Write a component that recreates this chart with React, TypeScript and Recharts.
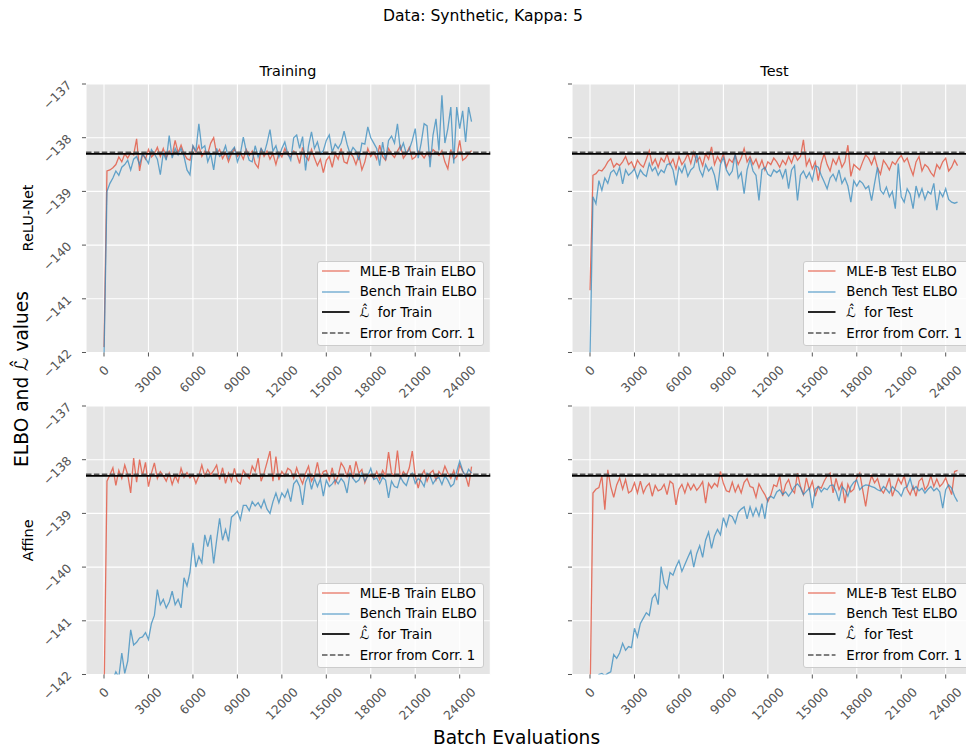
import React from 'react';
import { LineChart, Line, XAxis, YAxis, CartesianGrid, ReferenceLine, Legend } from 'recharts';

const FONT = '"DejaVu Sans", Verdana, sans-serif';
const RED = '#E24A33';
const BLUE = '#348ABD';
const TICK_GREY = '#555555';

// logged every 200 batch evaluations
const STEP = 200;
const xTicks = [0, 3000, 6000, 9000, 12000, 15000, 18000, 21000, 24000];
const yTicks = [-142, -141, -140, -139, -138, -137];

const lHatTrain = -138.3;
const lHatTest = -138.3;
const corrErrTrain = -138.27;
const corrErrTest = -138.27;

// ReLU-Net, training set
const mleReluTrain = [
  -141.9, -138.62, -138.6, -138.56, -138.5, -138.36, -138.45, -138.3, -138.38, -138.28,
  -138.32, -138.02, -138.62, -138.3, -138.4, -138.22, -138.36, -138.3, -138.18, -138.35,
  -138.2, -138.38, -138.25, -138.32, -138.05, -138.28, -138.14, -138.3, -138.39, -138.42,
  -138.16, -138.28, -138.15, -138.35, -138.25, -138.3, -138.1, -138.0, -138.3, -138.22,
  -138.39, -138.28, -138.45, -138.3, -138.2, -138.35, -138.28, -138.4, -138.22, -138.33,
  -138.25, -138.48, -138.56, -138.2, -138.35, -138.25, -138.4, -138.3, -138.5, -138.28,
  -138.36, -138.2, -138.32, -138.36, -138.25, -138.3, -138.48, -138.18, -138.35, -138.42,
  -138.22, -138.38, -138.52, -138.4, -138.65, -138.42, -138.35, -138.55, -138.3, -138.4,
  -138.2, -138.45, -138.48, -138.28, -138.35, -138.5, -138.32, -138.6, -138.45, -138.2,
  -138.35, -138.27, -138.4, -138.14, -138.35, -138.42, -138.2, -138.3, -138.37, -138.25,
  -138.15, -138.38, -138.3, -138.18, -138.4, -138.36, -138.25, -138.3, -138.38, -138.28,
  -138.37, -138.22, -138.27, -138.33, -138.24, -138.45, -138.58, -138.22, -138.4, -138.35,
  -138.05, -138.42, -138.38, -138.3, -138.24,
];
const benchReluTrain = [
  -142.1, -139.0, -138.85, -138.75, -138.62, -138.7, -138.55, -138.5, -138.42, -138.6,
  -138.4, -138.35, -138.5, -138.3, -138.38, -138.48, -138.22, -138.3, -138.4, -138.69,
  -138.28, -138.42, -137.96, -138.38, -138.2, -138.32, -138.2, -138.35, -138.6, -138.69,
  -138.15, -138.25, -137.74, -138.2, -138.15, -138.45, -138.3, -138.6, -138.2, -138.35,
  -138.3, -138.15, -138.38, -138.25, -138.18, -138.45, -138.3, -137.99, -138.25, -138.42,
  -138.45, -138.15, -138.36, -138.2, -138.3, -138.1, -137.85, -138.25, -138.15, -138.36,
  -138.2, -138.08, -138.3, -138.42, -138.0, -137.95, -138.2, -137.98, -138.61, -138.15,
  -137.89, -138.2, -138.08, -138.3, -138.24, -138.05, -137.95, -138.27, -138.12, -138.2,
  -138.1, -137.88, -138.12, -138.3, -138.18, -138.25, -138.42, -138.1, -138.12, -137.8,
  -138.0, -138.1, -138.2, -138.52, -138.08, -138.42, -138.05, -137.97, -138.1, -137.74,
  -138.24, -138.1, -138.3, -138.22, -138.05, -137.83, -138.38, -138.1, -137.74, -137.78,
  -138.55, -137.95, -137.65, -138.24, -137.21, -138.1, -137.83, -137.43, -138.48, -137.43,
  -137.83, -137.5, -138.08, -137.43, -137.7,
];

// ReLU-Net, test set
const mleReluTest = [
  -140.84, -138.7, -138.67, -138.6, -138.62, -138.55, -138.45, -138.39, -138.55, -138.48,
  -138.52, -138.45, -138.35, -138.5, -138.45, -138.58, -138.42, -138.5, -138.55, -138.4,
  -138.24, -138.5, -138.4, -138.55, -138.38, -138.45, -138.3, -138.5, -138.4, -138.58,
  -138.35, -138.5, -138.42, -138.3, -138.48, -138.27, -138.45, -138.36, -138.52, -138.3,
  -138.4, -138.17, -138.5, -138.35, -138.45, -138.3, -138.55, -138.4, -138.46, -138.32,
  -138.5, -138.38, -138.2, -138.45, -138.35, -138.5, -138.4, -138.56, -138.42, -138.6,
  -138.45, -138.5, -138.38, -138.45, -138.55, -138.42, -138.5, -138.35, -138.47, -138.3,
  -138.42, -138.35, -138.04, -138.52, -138.4, -138.58, -138.45, -138.8, -138.48, -138.3,
  -138.5, -138.62, -138.4, -138.5, -138.35, -138.55, -138.45, -138.14, -138.72, -138.5,
  -138.55, -138.6, -138.45, -138.32, -138.38, -138.5, -138.35, -138.56, -138.68, -138.42,
  -138.5, -138.6, -138.45, -138.5, -138.4, -138.33, -138.45, -138.38, -138.55, -138.7,
  -138.45, -138.35, -138.62, -138.5, -138.55, -138.65, -138.72, -138.5, -138.58, -138.45,
  -138.38, -138.62, -138.55, -138.42, -138.52,
];
const benchReluTest = [
  -142.1, -139.1, -139.23, -138.8, -138.98, -138.75, -138.85, -138.65, -138.6, -138.7,
  -138.55, -138.86, -138.6, -138.7, -138.65, -138.58, -138.75, -138.6, -138.68, -138.72,
  -138.48, -138.62, -138.55, -138.7, -138.6, -138.65, -138.5, -138.48, -138.6, -138.89,
  -138.55, -138.65, -138.5, -138.72, -138.6, -138.55, -138.3, -138.6, -138.72, -138.5,
  -138.62, -138.55, -138.7, -138.98, -138.5, -138.37, -138.6, -138.7, -138.62, -138.3,
  -138.75, -138.65, -139.04, -138.6, -138.4, -138.62, -138.7, -139.17, -138.6, -138.55,
  -138.68, -138.72, -138.6, -138.65, -138.6, -138.75, -138.58, -138.95, -138.6, -138.52,
  -139.17, -138.7, -138.62, -138.75, -138.65, -138.8, -138.52, -138.55, -138.7, -138.82,
  -138.95, -138.75, -138.68, -138.8, -138.6, -138.85, -138.75, -138.9, -139.2, -138.8,
  -138.9, -138.8, -138.85, -138.95, -138.9, -139.17, -138.85, -138.55, -138.98, -139.05,
  -138.92, -139.1, -139.0, -139.32, -138.48, -139.1, -139.2, -138.95, -139.05, -139.32,
  -138.9, -139.1, -138.95, -139.15, -139.0, -139.05, -138.85, -139.35, -139.0, -139.1,
  -138.95, -139.15, -139.2, -139.22, -139.2,
];

// Affine, training set
const mleAffineTrain = [
  -142.5, -138.4, -138.28, -138.15, -138.48, -138.2, -138.35, -138.1, -138.28, -138.62,
  -137.97, -138.42, -138.0, -138.3, -138.05, -138.5, -138.25, -138.06, -138.35, -138.22,
  -138.3, -138.4, -138.25, -138.46, -138.3, -138.42, -138.16, -138.33, -138.24, -138.34,
  -138.28, -138.44, -138.3, -138.1, -138.31, -138.18, -138.28, -138.2, -138.1, -138.37,
  -138.15, -138.44, -138.25, -138.4, -138.16, -138.4, -138.45, -138.2, -138.28, -138.35,
  -138.12, -138.22, -137.97, -138.4, -138.25, -138.05, -137.84, -138.4, -137.94, -138.38,
  -138.22, -138.3, -138.16, -138.2, -138.35, -138.15, -138.32, -138.45, -138.25, -138.12,
  -138.4, -138.3, -138.05, -138.34, -138.22, -138.2, -138.38, -138.15, -138.44, -138.3,
  -138.06, -138.15, -138.31, -138.1, -138.35, -138.03, -138.25, -138.18, -138.43, -138.28,
  -138.28, -138.35, -138.22, -138.37, -138.2, -138.3, -137.86, -138.25, -138.3, -137.83,
  -138.34, -138.22, -138.3, -138.15, -137.84, -138.3, -138.53, -138.3, -138.2, -138.4,
  -138.25, -138.2, -138.38, -138.22, -138.3, -138.12, -138.25, -138.35, -138.2, -138.38,
  -138.1, -138.22, -138.3, -138.5, -138.13,
];
const benchAffineTrain = [
  -142.6, -142.5, -142.4, -142.1, -141.95, -142.05, -141.6, -141.98, -141.75, -141.17,
  -141.45, -141.4, -141.32, -141.3, -141.22, -141.35, -141.05, -140.9, -140.42, -140.7,
  -140.6, -140.76, -140.65, -140.45, -140.7, -140.6, -140.76, -140.2, -140.35, -140.1,
  -139.55, -140.0, -139.8, -139.92, -139.4, -139.62, -139.4, -139.93, -139.5, -139.09,
  -139.5, -139.3, -139.52, -139.07, -139.02, -138.96, -139.12, -138.85, -138.85, -138.95,
  -138.78, -138.86, -138.8, -138.9, -138.75, -138.92, -139.0, -138.78, -138.62, -138.8,
  -138.62, -138.7, -138.56, -138.78, -138.45, -138.38, -138.5, -138.84, -138.42, -138.3,
  -138.55, -138.35, -138.5, -138.36, -138.68, -138.38, -138.5, -138.45, -138.37, -138.45,
  -138.35, -138.42, -138.62, -138.25, -138.35, -138.42, -138.38, -138.25, -138.4, -138.3,
  -138.16, -138.37, -138.34, -138.45, -138.33, -138.38, -138.71, -138.4, -138.5, -138.52,
  -138.32, -138.42, -138.48, -138.3, -138.25, -138.44, -138.35, -138.4, -138.5, -138.25,
  -138.3, -138.45, -138.36, -138.33, -138.46, -138.3, -138.38, -138.5, -138.45, -138.22,
  -138.03, -138.2, -138.32, -138.18, -138.25,
];

// Affine, test set
const mleAffineTest = [
  -142.5, -138.62, -138.55, -138.52, -138.3, -138.93, -138.19, -138.5, -138.7, -138.47,
  -138.34, -138.55, -138.37, -138.62, -138.58, -138.43, -138.62, -138.4, -138.62, -138.5,
  -138.44, -138.68, -138.48, -138.58, -138.55, -138.46, -138.65, -138.4, -138.45, -138.84,
  -138.55, -138.46, -138.62, -138.44, -138.56, -138.46, -138.57, -138.5, -138.41, -138.81,
  -138.44, -138.53, -138.44, -138.5, -138.22, -138.44, -138.58, -138.6, -138.42, -138.6,
  -138.47, -138.62, -138.42, -138.35, -138.5, -138.52, -138.7, -138.45, -138.56, -138.65,
  -138.78, -138.66, -138.47, -138.5, -138.3, -138.68, -138.46, -138.37, -138.55, -138.62,
  -138.25, -138.5, -138.65, -138.34, -138.56, -138.4, -138.68, -138.5, -138.53, -138.4,
  -138.3, -138.25, -138.62, -138.35, -138.56, -138.43, -138.81, -138.46, -138.6, -138.55,
  -138.34, -138.25, -138.56, -138.87, -138.5, -138.3, -138.43, -138.35, -138.55, -138.62,
  -138.5, -138.34, -138.68, -138.52, -138.35, -138.45, -138.3, -138.55, -138.65, -138.5,
  -138.68, -138.4, -138.34, -138.56, -138.48, -138.3, -138.5, -138.36, -138.5, -138.44,
  -138.34, -138.5, -138.65, -138.22, -138.2,
];
const benchAffineTest = [
  -142.6, -142.5, -142.3, -142.0, -141.98, -142.02, -141.98, -141.95, -141.63, -141.7,
  -141.6, -141.42, -141.55, -141.48, -141.5, -141.14, -141.3, -141.05, -140.95, -140.85,
  -140.9, -140.58, -140.5, -140.7, -139.99, -140.3, -140.4, -140.1, -140.15, -140.0,
  -139.88, -140.08, -139.95, -139.82, -139.7, -140.0, -139.75, -139.6, -139.82, -139.5,
  -139.35, -139.65, -139.42, -139.3, -139.4, -139.08, -139.24, -139.03, -139.06, -139.18,
  -138.98, -138.92, -138.88, -139.1, -138.88, -139.05, -138.9, -139.05, -138.82, -139.1,
  -138.72, -138.68, -138.72, -138.6, -138.56, -138.65, -138.6, -138.68, -138.6, -138.5,
  -138.45, -138.52, -138.65, -138.59, -138.53, -138.9, -138.55, -138.5, -138.6, -138.53,
  -138.56, -138.48, -138.47, -138.59, -138.77, -138.5, -138.56, -138.68, -138.5, -138.42,
  -138.38, -138.56, -138.5, -138.47, -138.48, -138.5, -138.52, -138.56, -138.58, -138.5,
  -138.55, -138.62, -138.5, -138.56, -138.6, -138.68, -138.53, -138.5, -138.35, -138.56,
  -138.5, -138.58, -138.53, -138.62, -138.55, -138.5, -138.58, -138.53, -138.6, -138.9,
  -138.56, -138.47, -138.53, -138.68, -138.78,
];

const buildRows = (mle: number[], bench: number[]) =>
  mle.map((v, i) => ({ batch: i * STEP, mle: v, bench: bench[i] }));

// plot-area geometry (matplotlib subplot boxes)
const Y_AXIS_W = 60;
const X_AXIS_H = 60;
const PLOT_W = 404.3;
const PLOT_H = 268.5;
const MARGIN = { top: 20, right: 10, left: 0, bottom: 0 };
const CHART_W = Y_AXIS_W + PLOT_W + MARGIN.right;
const CHART_H = MARGIN.top + PLOT_H + X_AXIS_H;
const TICK_FS = 12.4;

const fmtTick = (v: number) => (v < 0 ? `\u2212${Math.abs(v)}` : String(v));

const YTick = (props: any) => {
  const { x, y, payload, show } = props;
  if (!show) return <g />;
  return (
    <text
      transform={`translate(${x - 7.7},${y + 2}) rotate(-45)`}
      textAnchor="end"
      fill={TICK_GREY}
      fontSize={TICK_FS}
      fontFamily={FONT}
    >
      {fmtTick(payload.value)}
    </text>
  );
};

const XTick = (props: any) => {
  const { x, y, payload } = props;
  const label = String(payload.value);
  const half = (label.length * 5.5 + 6.3) / 2;
  return (
    <text
      transform={`translate(${x + half},${y + 12.4}) rotate(-45)`}
      textAnchor="end"
      fill={TICK_GREY}
      fontSize={TICK_FS}
      fontFamily={FONT}
    >
      {label}
    </text>
  );
};

const ROW_CENTERS = [10, 30.6, 51.4, 72.2];
const SERIES_ORDER = ['mle', 'bench'];

const LegendBox = (props: any) => {
  const { payload = [], split } = props;
  const series = [...payload].sort(
    (a: any, b: any) => SERIES_ORDER.indexOf(a.dataKey) - SERIES_ORDER.indexOf(b.dataKey),
  );
  const entries = [
    ...series.map((p: any) => ({ label: p.value, color: p.color, dash: undefined, w: 1.3, op: 0.75 })),
    { label: `\u2112\u0302\u00a0\u00a0for ${split}`, color: '#000000', dash: undefined, w: 1.7, op: 1 },
    { label: 'Error from Corr. 1', color: '#555555', dash: '5.5 2.4', w: 1.5, op: 1 },
  ];
  return (
    <div
      style={{
        position: 'relative',
        width: 167.3,
        height: 84.7,
        boxSizing: 'border-box',
        background: 'rgba(255,255,255,0.8)',
        border: '1px solid #cccccc',
        borderRadius: 3,
        fontFamily: FONT,
        fontSize: 13.3,
        color: '#000',
      }}
    >
      {entries.map((e, i) => (
        <div
          key={i}
          style={{
            position: 'absolute',
            left: 4,
            top: ROW_CENTERS[i] - 11,
            height: 20,
            display: 'flex',
            alignItems: 'center',
            whiteSpace: 'nowrap',
          }}
        >
          <svg width={28} height={6} style={{ marginRight: 10 }}>
            <line x1={0} y1={3} x2={27.5} y2={3} stroke={e.color} strokeWidth={e.w} strokeOpacity={e.op} strokeDasharray={e.dash} />
          </svg>
          <span>{e.label}</span>
        </div>
      ))}
    </div>
  );
};

const Panel = (props: any) => {
  const { left, top, mle, bench, split, showYLabels, lHat, corrErr } = props;
  const rows = buildRows(mle, bench);
  return (
    <div style={{ position: 'absolute', left, top }}>
      <LineChart width={CHART_W} height={CHART_H} data={rows} margin={MARGIN}>
        <CartesianGrid fill="#E5E5E5" fillOpacity={1} stroke="#FFFFFF" strokeWidth={1.1} />
        <XAxis
          dataKey="batch"
          type="number"
          domain={[-1215, 26065]}
          ticks={xTicks}
          interval={0}
          allowDataOverflow
          axisLine={false}
          tickLine={{ stroke: TICK_GREY }}
          tickSize={4}
          height={X_AXIS_H}
          tick={(p: any) => <XTick {...p} />}
        />
        <YAxis
          type="number"
          domain={[-142, -137]}
          ticks={yTicks}
          interval={0}
          allowDataOverflow
          axisLine={false}
          tickLine={{ stroke: TICK_GREY }}
          tickSize={4}
          width={Y_AXIS_W}
          tick={(p: any) => <YTick {...p} show={showYLabels} />}
        />
        <Line
          type="linear"
          dataKey="mle"
          name={`MLE-B ${split} ELBO`}
          stroke={RED}
          strokeOpacity={0.75}
          strokeWidth={1.3}
          dot={false}
          isAnimationActive={false}
        />
        <Line
          type="linear"
          dataKey="bench"
          name={`Bench ${split} ELBO`}
          stroke={BLUE}
          strokeOpacity={0.75}
          strokeWidth={1.3}
          dot={false}
          isAnimationActive={false}
        />
        <ReferenceLine y={lHat} stroke="#000000" strokeWidth={1.7} />
        <ReferenceLine y={corrErr} stroke="#555555" strokeWidth={1.5} strokeDasharray="5.5 2.4" />
        <Legend
          layout="vertical"
          align="center"
          verticalAlign="middle"
          wrapperStyle={{ left: 291, top: 197 }}
          content={(p: any) => <LegendBox {...p} split={split} />}
        />
      </LineChart>
    </div>
  );
};

export default function App() {
  return (
    <div
      style={{
        position: 'absolute',
        left: 0,
        top: 0,
        width: 966,
        height: 750,
        overflow: 'hidden',
        background: '#ffffff',
      }}
    >
      <Panel left={25.7} top={64} mle={mleReluTrain} bench={benchReluTrain} split="Train" showYLabels lHat={lHatTrain} corrErr={corrErrTrain} />
      <Panel left={512.3} top={64} mle={mleReluTest} bench={benchReluTest} split="Test" showYLabels={false} lHat={lHatTest} corrErr={corrErrTest} />
      <Panel left={25.7} top={386} mle={mleAffineTrain} bench={benchAffineTrain} split="Train" showYLabels lHat={lHatTrain} corrErr={corrErrTrain} />
      <Panel left={512.3} top={386} mle={mleAffineTest} bench={benchAffineTest} split="Test" showYLabels={false} lHat={lHatTest} corrErr={corrErrTest} />
      <svg
        width={966}
        height={750}
        style={{ position: 'absolute', left: 0, top: 0, pointerEvents: 'none' }}
        fontFamily={FONT}
      >
        <text x={483} y={21} textAnchor="middle" fontSize={15.6} fill="#000">
          Data: Synthetic, Kappa: 5
        </text>
        <text x={287.9} y={75.5} textAnchor="middle" fontSize={14.4} fill="#000">
          Training
        </text>
        <text x={774.5} y={75.5} textAnchor="middle" fontSize={14.4} fill="#000">
          Test
        </text>
        <text transform="translate(33.3,218) rotate(-90)" textAnchor="middle" fontSize={14.5} fill="#000">
          ReLU-Net
        </text>
        <text transform="translate(33.3,540.3) rotate(-90)" textAnchor="middle" fontSize={14.5} fill="#000">
          Affine
        </text>
        <text transform="translate(28,379) rotate(-90)" textAnchor="middle" fontSize={18.6} fill="#000">
          {'ELBO and \u2112\u0302 values'}
        </text>
        <text x={516.5} y={744} textAnchor="middle" fontSize={18.6} fill="#000">
          Batch Evaluations
        </text>
      </svg>
    </div>
  );
}
